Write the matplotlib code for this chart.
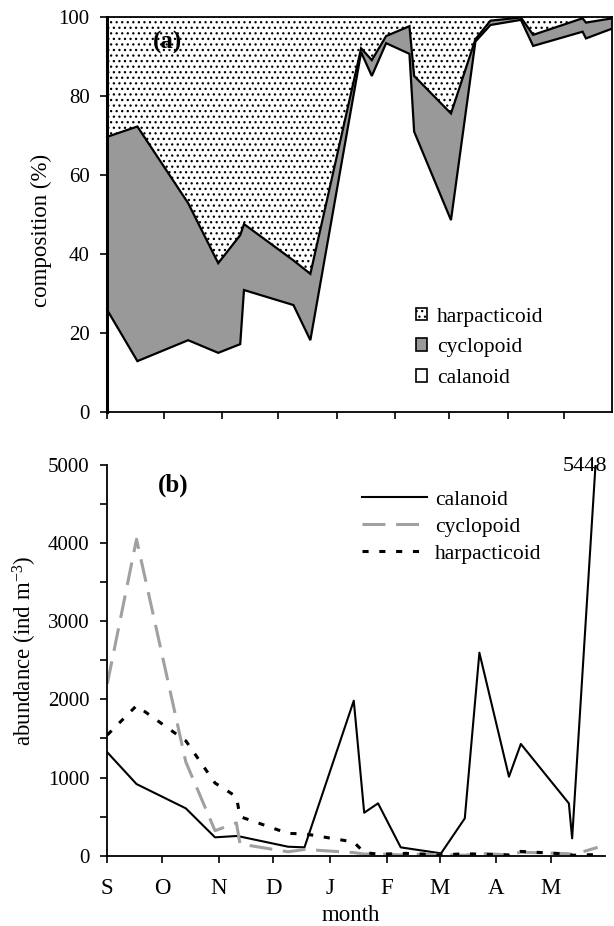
import matplotlib
matplotlib.use('Agg')
import matplotlib.pyplot as plt
from matplotlib.patches import Patch

plt.rcParams['font.family'] = ['Liberation Serif', 'DejaVu Serif']
plt.rcParams['mathtext.default'] = 'regular'
plt.rcParams['hatch.linewidth'] = 0.9

# sampling days (days after 1 September)
days = [0, 16, 43, 59, 70.7, 72.7, 99, 108, 135, 140.7, 148.3, 160.7, 163.2,
        182.8, 195.8, 203.8, 220, 226.5, 252.8, 254.6, 268.6]

# (a) composition (%)
calanoid_pct = [25.7, 12.8, 18.1, 14.9, 17.1, 30.8, 27.0, 18.1, 91.0, 85.0, 93.3,
                90.6, 70.9, 48.5, 93.7, 97.9, 99.2, 92.6, 96.2, 94.5, 97.0]
cyclopoid_pct = [43.9, 59.4, 34.7, 22.7, 27.6, 16.7, 11.3, 16.8, 1.0, 4.0, 1.8,
                 7.0, 14.1, 27.0, 0.6, 1.1, 0.6, 2.8, 3.4, 4.0, 2.6]

# (b) abundance (ind m-3)
calanoid_abund = [1323, 917, 606, 235, 252, 245, 115, 107, 1984, 550, 670, 107, 98,
                  30, 478, 2598, 1011, 1430, 670, 222, 5448]
cyclopoid_abund = [2200, 4050, 1200, 320, 420, 150, 50, 80, 40, 20, 25, 10, 20,
                   15, 5, 30, 10, 45, 25, 10, 107]
harpacticoid_abund = [1545, 1920, 1470, 930, 755, 500, 285, 280, 175, 40, 20, 25, 30,
                      10, 25, 20, 10, 55, 20, 5, 15]

month_starts = [0, 30, 61, 91, 122, 153, 182, 213, 243]
month_labels = ['S', 'O', 'N', 'D', 'J', 'F', 'M', 'A', 'M']

W, H = 614, 926
fig = plt.figure(figsize=(W / 100, H / 100), dpi=100)


def rect(l, t, r, b):
    return [l / W, 1 - b / H, (r - l) / W, (b - t) / H]


def ftext(x, y, s, **kw):
    return fig.text(x / W, 1 - y / H, s, **kw)


ax1 = fig.add_axes(rect(107.3, 16.7, 612.3, 411.7))
ax2 = fig.add_axes(rect(107.3, 465, 605, 855.7))

FS_TICK = 15
FS_LEG = 15.5
FS_LAB = 16.5

# ---------- panel (a)
upper = [c + y for c, y in zip(calanoid_pct, cyclopoid_pct)]
gray = '#999999'
ax1.fill_between(days, 0, calanoid_pct, facecolor='white', linewidth=0)
ax1.fill_between(days, calanoid_pct, upper, facecolor=gray, linewidth=0)
ax1.fill_between(days, upper, 100, facecolor='white', edgecolor='black',
                 hatch='...', linewidth=0)
ax1.plot(days, calanoid_pct, color='black', lw=1.6, solid_joinstyle='miter')
ax1.plot(days, upper, color='black', lw=1.6, solid_joinstyle='miter')
ax1.set_xlim(0, days[-1])
ax1.set_ylim(0, 100)
ax1.set_yticks(range(0, 101, 20))
ax1.set_xticks(month_starts)
ax1.set_xticklabels([])
ax1.tick_params(direction='out', length=5, width=1.2, pad=7.7, labelsize=FS_TICK)
for s in ax1.spines.values():
    s.set_linewidth(1.3)
ax1.spines['left'].set_linewidth(2.2)
ftext(153, 49, '(a)', fontsize=18, fontweight='bold', ha='left', va='baseline')

h_a = [Patch(facecolor='white', edgecolor='black', hatch='...', lw=1.2),
       Patch(facecolor=gray, edgecolor='black', lw=1.2),
       Patch(facecolor='white', edgecolor='black', lw=1.2)]
ax1.legend(h_a, ['harpacticoid', 'cyclopoid', 'calanoid'], loc='center left',
           bbox_to_anchor=(0.611, 0.162), frameon=False, fontsize=FS_LEG,
           handlelength=0.54, handleheight=0.54, handletextpad=0.44,
           labelspacing=0.54, borderpad=0, borderaxespad=0)

ftext(41.7, 230, 'composition (%)', rotation=90, ha='center', va='center',
      fontsize=FS_LAB)

# ---------- panel (b)
l1, = ax2.plot(days, calanoid_abund, color='black', lw=1.5, label='calanoid')
l2, = ax2.plot(days, cyclopoid_abund, color='#a0a0a0', lw=2.2,
               dashes=(7.5, 3.5), label='cyclopoid')
l3, = ax2.plot(days, harpacticoid_abund, color='black', lw=2.2,
               dashes=(2, 3.5), label='harpacticoid')
ax2.set_xlim(0, 272.6)
ax2.set_ylim(0, 5000)
ax2.set_yticks(range(0, 5001, 1000))
ax2.set_yticks(range(500, 5000, 1000), minor=True)
ax2.set_xticks(month_starts)
ax2.set_xticklabels(month_labels)
ax2.tick_params(which='both', direction='out', length=5, width=1.2, pad=7.7,
                labelsize=FS_TICK)
ax2.tick_params(axis='x', labelsize=FS_LAB, pad=11)
ax2.spines['top'].set_visible(False)
ax2.spines['right'].set_visible(False)
ax2.spines['left'].set_linewidth(1.3)
ax2.spines['bottom'].set_linewidth(1.3)
ftext(351, 921, 'month', ha='center', va='baseline', fontsize=FS_LAB)
ftext(158, 492, '(b)', fontsize=18, fontweight='bold', ha='left', va='baseline')
ftext(607, 471, '5448', ha='right', va='baseline', fontsize=16)
ax2.legend(handles=[l1, l2, l3], loc='center left',
           bbox_to_anchor=(0.511, 0.842), frameon=False, fontsize=FS_LEG,
           handlelength=3.05, handletextpad=0.36, labelspacing=0.33,
           borderpad=0, borderaxespad=0)

ftext(24.5, 651, 'abundance (ind m$^{-3}$)', rotation=90, ha='center',
      va='center', fontsize=FS_LAB)

fig.savefig('out.png', dpi=100)
